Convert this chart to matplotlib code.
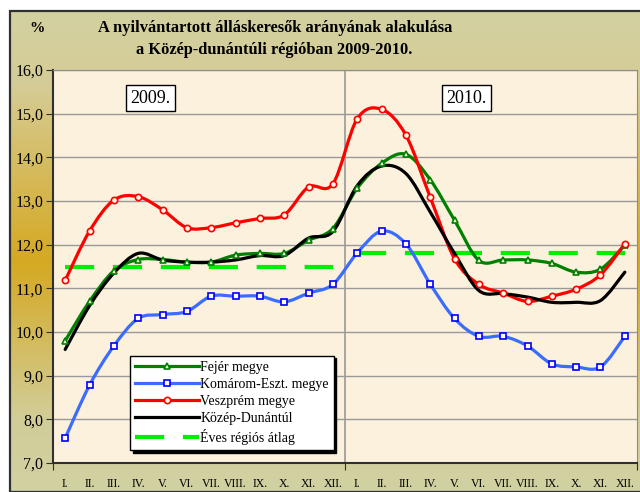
import numpy as np
import matplotlib
matplotlib.use("Agg")
import matplotlib.pyplot as plt
from matplotlib.path import Path
from matplotlib.patches import PathPatch, Rectangle
from matplotlib.lines import Line2D
from matplotlib.colors import LinearSegmentedColormap

# === DATA ===
months = ["I.", "II.", "III.", "IV.", "V.", "VI.", "VII.", "VIII.", "IX.", "X.", "XI.", "XII."]
labels = months + months

fejer = [9.8, 10.7, 11.4, 11.66, 11.66, 11.6, 11.6, 11.76, 11.8, 11.8, 12.1, 12.37,
         13.29, 13.86, 14.07, 13.49, 12.56, 11.64, 11.65, 11.65, 11.57, 11.37, 11.44, 11.99]
komarom = [7.57, 8.78, 9.68, 10.31, 10.4, 10.47, 10.82, 10.82, 10.82, 10.69, 10.89, 11.09,
           11.81, 12.31, 12.02, 11.1, 10.31, 9.9, 9.9, 9.68, 9.27, 9.2, 9.2, 9.9]
veszprem = [11.18, 12.31, 13.02, 13.1, 12.8, 12.39, 12.39, 12.5, 12.6, 12.68, 13.32, 13.39,
            14.88, 15.1, 14.51, 13.09, 11.68, 11.09, 10.89, 10.7, 10.82, 10.98, 11.31, 12.02]
kozep = [9.6, 10.6, 11.35, 11.8, 11.65, 11.6, 11.6, 11.65, 11.75, 11.75, 12.15, 12.3,
         13.35, 13.8, 13.63, 12.75, 11.8, 10.95, 10.88, 10.8, 10.68, 10.68, 10.72, 11.37]
atlag_2009 = 11.5
atlag_2010 = 11.8

x = np.arange(len(labels))


# Excel-style smoothed line (cubic Bezier through the data points)
def smooth_path(xs, ys):
    pts = np.column_stack([xs, ys]).astype(float)
    n = len(pts)
    verts = [pts[0]]
    codes = [Path.MOVETO]
    for i in range(n - 1):
        p0 = pts[i - 1] if i > 0 else pts[i]
        p1 = pts[i]
        p2 = pts[i + 1]
        p3 = pts[i + 2] if i + 2 < n else pts[i + 1]
        c1 = p1 + (p2 - p0) / 6.0
        c2 = p2 - (p3 - p1) / 6.0
        verts += [c1, c2, p2]
        codes += [Path.CURVE4] * 3
    return Path(verts, codes)


fig = plt.figure(figsize=(6.4, 4.92), dpi=100)
fig.patch.set_facecolor("white")

# background gradient of chart area
bg = fig.add_axes([10 / 640, 0, 1 - 10 / 640, 1 - 11 / 492], zorder=-10)
cmap = LinearSegmentedColormap.from_list("bg", [(0, "#d3d1a1"), (0.15, "#d5cc96"), (0.52, "#d5a922"),
                                                 (0.85, "#d2cd98"), (1, "#d1d1a3")])
grad = np.linspace(0, 1, 256).reshape(-1, 1)
bg.imshow(grad, aspect="auto", cmap=cmap, extent=[0, 1, 0, 1], origin="upper")
bg.set_axis_off()
fig.patches.append(Rectangle((10 / 640, 0), 1, 1 - 11 / 492, transform=fig.transFigure,
                             fill=False, edgecolor="#303030", linewidth=1.6, zorder=5))

ax = fig.add_axes([53 / 640, 1 - 463 / 492, (637 - 53) / 640, (463 - 70) / 492])
ax.set_facecolor("#fcf1dd")

ax.set_xlim(-0.5, 23.5)
ax.set_ylim(7, 16)
ax.set_yticks(np.arange(7, 16.1, 1))
ax.set_yticklabels([f"{v:.1f}".replace(".", ",") for v in np.arange(7, 16.1, 1)],
                   fontfamily="Liberation Serif", fontsize=11.5)
ax.set_xticks([-0.5, 11.5, 23.5])
ax.set_xticklabels([])
ax.set_xticks(x, minor=True)
ax.set_xticklabels(labels, minor=True, fontfamily="Liberation Serif", fontsize=8.5)
ax.tick_params(axis="x", which="minor", length=0, pad=11)
ax.tick_params(axis="x", which="major", length=5, direction="out", color="#303030")
ax.tick_params(axis="y", length=5, direction="out", color="#303030", pad=2)
ax.grid(axis="y", color="#999999", linewidth=1)
ax.axvline(11.5, color="#999999", linewidth=1.2)
for s in ["top", "right"]:
    ax.spines[s].set_color("#8c8c8c")
for s in ["left", "bottom"]:
    ax.spines[s].set_color("#303030")
    ax.spines[s].set_linewidth(1.5)

# average dashed lines
ax.plot(x[:12], [atlag_2009] * 12, color="#00ee00", linewidth=3, dashes=(7, 4.5), zorder=2)
ax.plot(x[12:], [atlag_2010] * 12, color="#00ee00", linewidth=3, dashes=(7, 4.5), zorder=2)

series = [
    (fejer, "#008000", "#008000", "^", "Fejér megye"),
    (komarom, "#3b6cff", "#0000ff", "s", "Komárom-Eszt. megye"),
    (veszprem, "#ff0000", "#ff0000", "o", "Veszprém megye"),
    (kozep, "#000000", None, None, "Közép-Dunántúl"),
]
handles = []
for vals, col, mcol, mk, name in series:
    ax.add_patch(PathPatch(smooth_path(x, vals), fill=False, edgecolor=col, linewidth=2.3,
                           capstyle="round", joinstyle="round", zorder=3))
    if mk:
        ax.plot(x, vals, linestyle="none", marker=mk, markersize=4.5, markerfacecolor="#fffbe8",
                markeredgecolor=mcol, markeredgewidth=1.2, zorder=4)
    handles.append(Line2D([], [], color=col, linewidth=2.3, marker=mk, markersize=4.5,
                          markerfacecolor="#fffbe8", markeredgecolor=mcol, markeredgewidth=1.2,
                          label=name))
handles.append(Line2D([], [], color="#00ee00", linewidth=3, dashes=(7, 4.5), label="Éves régiós átlag"))

leg = ax.legend(handles=handles, loc="lower left", bbox_to_anchor=(0.132, 0.033), borderaxespad=0,
                prop={"family": "Liberation Serif", "size": 10}, handlelength=4.6,
                handletextpad=0.1, labelspacing=0.3, borderpad=0.35, fancybox=False,
                framealpha=1, edgecolor="black", shadow={"color": "black", "alpha": 1})
leg.get_frame().set_linewidth(1)

for xx, txt in [(3.5, "2009."), (16.5, "2010.")]:
    ax.text(xx, 15.35, txt, ha="center", va="center", fontfamily="Liberation Serif", fontsize=13,
            bbox=dict(boxstyle="square,pad=0.25", facecolor="white", edgecolor="black", linewidth=1))

fig.text(275 / 640, 1 - 28 / 492, "A nyilvántartott álláskeresők arányának alakulása",
         ha="center", va="center", fontfamily="Liberation Serif", fontweight="bold", fontsize=11.8)
fig.text(274 / 640, 1 - 50 / 492, "a Közép-dunántúli régióban 2009-2010.",
         ha="center", va="center", fontfamily="Liberation Serif", fontweight="bold", fontsize=11.8)
fig.text(37 / 640, 1 - 29 / 492, "%", ha="center", va="center",
         fontfamily="Liberation Serif", fontweight="bold", fontsize=11)

fig.savefig("out.png", dpi=100)
